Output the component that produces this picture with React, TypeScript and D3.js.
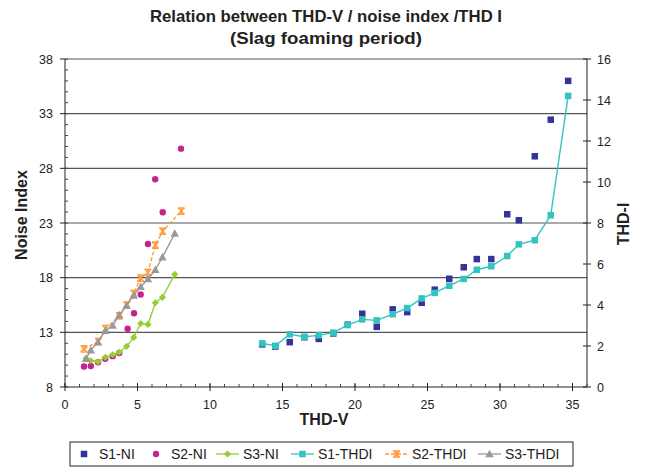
import React from "react";
import * as d3 from "d3";

// ---------- data ----------
const s1THDV = [13.6, 14.5, 15.5, 16.5, 17.5, 18.5, 19.5, 20.5, 21.5, 22.6, 23.6, 24.6, 25.5, 26.5, 27.5, 28.4, 29.4, 30.5, 31.3, 32.4, 33.5, 34.7];
const s1NI = [11.9, 11.7, 12.1, 12.55, 12.4, 12.9, 13.7, 14.7, 13.5, 15.1, 14.85, 15.7, 16.9, 17.9, 18.95, 19.7, 19.7, 23.8, 23.25, 29.1, 32.45, 36.0];
const s1THDI = [2.13, 2.01, 2.57, 2.45, 2.52, 2.65, 3.02, 3.3, 3.25, 3.55, 3.85, 4.32, 4.59, 4.94, 5.27, 5.72, 5.89, 6.39, 6.96, 7.16, 8.38, 14.2];

const s2THDV_NI = [1.31, 1.78, 2.28, 2.77, 3.29, 3.74, 4.32, 4.76, 5.22, 5.72, 6.22, 6.74, 8.0];
const s2NI = [9.88, 9.92, 10.26, 10.59, 10.82, 11.11, 13.33, 14.75, 16.46, 21.08, 27.0, 23.99, 29.8];
const s2THDV_THDI = [1.31, 2.3, 2.79, 3.74, 4.26, 4.74, 5.22, 5.72, 6.23, 6.74, 8.02];
const s2THDI = [1.86, 2.22, 2.85, 3.47, 4.0, 4.56, 5.31, 5.59, 6.92, 7.6, 8.58];

const s3THDV = [1.45, 1.78, 2.27, 2.79, 3.29, 3.74, 4.25, 4.74, 5.22, 5.72, 6.23, 6.72, 7.57];
const s3NI = [10.63, 10.4, 10.31, 10.72, 10.95, 11.18, 11.72, 12.53, 13.81, 13.72, 15.7, 16.2, 18.31];
const s3THDI = [1.38, 1.8, 2.19, 2.75, 3.0, 3.51, 3.98, 4.47, 4.89, 5.27, 5.72, 6.33, 7.49];

const xTicks = [0, 5, 10, 15, 20, 25, 30, 35];
const leftTicks = [8, 13, 18, 23, 28, 33, 38];
const rightTicks = [0, 2, 4, 6, 8, 10, 12, 14, 16];
const legendLabels = ["S1-NI", "S2-NI", "S3-NI", "S1-THDI", "S2-THDI", "S3-THDI"];

// ---------- style ----------
const C = {
  navy: "#333399",
  magenta: "#C7238F",
  green: "#99CC33",
  teal: "#33C3C0",
  orange: "#FF9933",
  grey: "#999999",
};
const FONT = "'Liberation Sans', Arial, sans-serif";

const W = 653, H = 468;
const L = 65, R = 587, T = 59, B = 387;

const x = d3.scaleLinear().domain([0, 36]).range([L, R]);
const yL = d3.scaleLinear().domain([8, 38]).range([B, T]);
const yR = d3.scaleLinear().domain([0, 16]).range([B, T]);

type Pt = [number, number];
const zip = (a: number[], b: number[]): Pt[] => a.map((v, i) => [v, b[i]]);

function Square({ cx, cy, color, s = 6.5 }: any) {
  return <rect x={cx - s / 2} y={cy - s / 2} width={s} height={s} fill={color} />;
}
function Dot({ cx, cy, color }: any) {
  return <circle cx={cx} cy={cy} r={3.2} fill={color} />;
}
function Diamond({ cx, cy, color }: any) {
  const r = 3.6;
  return <path d={`M${cx},${cy - r}L${cx + r},${cy}L${cx},${cy + r}L${cx - r},${cy}Z`} fill={color} />;
}
function Tri({ cx, cy, color }: any) {
  const r = 4.2;
  return <path d={`M${cx},${cy - r}L${cx + r},${cy + r * 0.8}L${cx - r},${cy + r * 0.8}Z`} fill={color} />;
}
function Star({ cx, cy, color }: any) {
  const r = 3.2;
  return (
    <g stroke={color} strokeWidth={1.3}>
      <line x1={cx - r} y1={cy - r} x2={cx + r} y2={cy + r} />
      <line x1={cx - r} y1={cy + r} x2={cx + r} y2={cy - r} />
      <line x1={cx} y1={cy - r} x2={cx} y2={cy + r} />
      <line x1={cx - r} y1={cy - r} x2={cx + r} y2={cy - r} />
      <line x1={cx - r} y1={cy + r} x2={cx + r} y2={cy + r} />
    </g>
  );
}

export default function App() {
  const lineL = d3.line<Pt>().x(d => x(d[0])).y(d => yL(d[1]));
  const lineR = d3.line<Pt>().x(d => x(d[0])).y(d => yR(d[1]));

  const s1ni = zip(s1THDV, s1NI);
  const s1thdi = zip(s1THDV, s1THDI);
  const s2ni = zip(s2THDV_NI, s2NI);
  const s2thdi = zip(s2THDV_THDI, s2THDI);
  const s3ni = zip(s3THDV, s3NI);
  const s3thdi = zip(s3THDV, s3THDI);

  const minorX = d3.range(0, 37, 1);
  const minorL = d3.range(8, 39, 1);

  const legendX = [84, 156, 216, 291, 385, 478];

  return (
    <svg width={W} height={H} style={{ position: "absolute", left: 0, top: 0, background: "#fff" }} fontFamily={FONT}>
      <rect x={0} y={0} width={W} height={H} fill="#fff" />
      {/* title */}
      <text x={326} y={22} textAnchor="middle" fontSize={16.5} fontWeight="bold" fill="#222" textLength={352} lengthAdjust="spacingAndGlyphs">
        Relation between THD-V / noise index /THD I
      </text>
      <text x={326} y={44} textAnchor="middle" fontSize={16.5} fontWeight="bold" fill="#222" textLength={192} lengthAdjust="spacingAndGlyphs">
        (Slag foaming period)
      </text>

      {/* gridlines */}
      {leftTicks.filter(t => t > 8).map(t => (
        <line key={"g" + t} x1={L} x2={R} y1={yL(t)} y2={yL(t)} stroke="#555" strokeWidth={1.2} />
      ))}

      {/* left axis */}
      <line x1={L} x2={L} y1={T} y2={B} stroke="#222" strokeWidth={1} />
      {minorL.map(t => (
        <line key={"ml" + t} x1={L} x2={L + 3} y1={yL(t)} y2={yL(t)} stroke="#444" />
      ))}
      {leftTicks.map(t => (
        <g key={"lt" + t}>
          <line x1={L - 5} x2={L} y1={yL(t)} y2={yL(t)} stroke="#222" />
          <text x={L - 12} y={yL(t) + 4.5} textAnchor="end" fontSize={12.5} fill="#222">{t}</text>
        </g>
      ))}

      {/* right axis */}
      <line x1={R} x2={R} y1={T} y2={B} stroke="#222" strokeWidth={1} />
      {rightTicks.map(t => (
        <g key={"rt" + t}>
          <line x1={R - 4} x2={R + 4} y1={yR(t)} y2={yR(t)} stroke="#222" />
          <text x={R + 10} y={yR(t) + 4.5} textAnchor="start" fontSize={12.5} fill="#222">{t}</text>
        </g>
      ))}

      {/* x axis */}
      <line x1={L} x2={R} y1={B} y2={B} stroke="#222" strokeWidth={1} />
      {minorX.map(t => (
        <line key={"mx" + t} x1={x(t)} x2={x(t)} y1={B - 3} y2={B} stroke="#444" />
      ))}
      {xTicks.map(t => (
        <g key={"xt" + t}>
          <line x1={x(t)} x2={x(t)} y1={B - 4} y2={B + 4} stroke="#222" />
          <text x={x(t)} y={409} textAnchor="middle" fontSize={12.5} fill="#222">{t}</text>
        </g>
      ))}

      {/* axis titles */}
      <text x={324} y={425} textAnchor="middle" fontSize={16} fontWeight="bold" fill="#222">THD-V</text>
      <text transform={`translate(27,215) rotate(-90)`} textAnchor="middle" fontSize={16} fontWeight="bold" fill="#222">Noise Index</text>
      <text transform={`translate(629,224) rotate(-90)`} textAnchor="middle" fontSize={16} fontWeight="bold" fill="#222">THD-I</text>

      {/* series */}
      {s1ni.map((d, i) => <Square key={"a" + i} cx={x(d[0])} cy={yL(d[1])} color={C.navy} />)}
      {s2ni.map((d, i) => <Dot key={"b" + i} cx={x(d[0])} cy={yL(d[1])} color={C.magenta} />)}
      <path d={lineL(s3ni) || ""} fill="none" stroke={C.green} strokeWidth={1.4} />
      {s3ni.map((d, i) => <Diamond key={"c" + i} cx={x(d[0])} cy={yL(d[1])} color={C.green} />)}
      <path d={lineR(s1thdi) || ""} fill="none" stroke={C.teal} strokeWidth={1.4} />
      {s1thdi.map((d, i) => <Square key={"d" + i} cx={x(d[0])} cy={yR(d[1])} color={C.teal} />)}
      <path d={lineR(s2thdi) || ""} fill="none" stroke={C.orange} strokeWidth={1.3} strokeDasharray="4,2" />
      {s2thdi.map((d, i) => <Star key={"e" + i} cx={x(d[0])} cy={yR(d[1])} color={C.orange} />)}
      <path d={lineR(s3thdi) || ""} fill="none" stroke={C.grey} strokeWidth={1.4} />
      {s3thdi.map((d, i) => <Tri key={"f" + i} cx={x(d[0])} cy={yR(d[1])} color={C.grey} />)}

      {/* legend */}
      <rect x={70} y={442} width={503} height={24} fill="#fff" stroke="#222" strokeWidth={1} />
      {legendLabels.map((lab, i) => {
        const lx = legendX[i];
        const cy = 454;
        let sym: any = null;
        let tx = lx + 15;
        if (i === 0) sym = <Square cx={lx} cy={cy} color={C.navy} />;
        else if (i === 1) sym = <Dot cx={lx} cy={cy} color={C.magenta} />;
        else {
          const col = [C.green, C.teal, C.orange, C.grey][i - 2];
          const Mk = [Diamond, Square, Star, Tri][i - 2];
          sym = (
            <g>
              <line x1={lx} x2={lx + 23} y1={cy} y2={cy} stroke={col} strokeWidth={1.3} strokeDasharray={i === 4 ? "4,2" : undefined} />
              <Mk cx={lx + 11.5} cy={cy} color={col} />
            </g>
          );
          tx = lx + 27;
        }
        return (
          <g key={lab}>
            {sym}
            <text x={tx} y={cy + 5} fontSize={14} fill="#222">{lab}</text>
          </g>
        );
      })}
    </svg>
  );
}
